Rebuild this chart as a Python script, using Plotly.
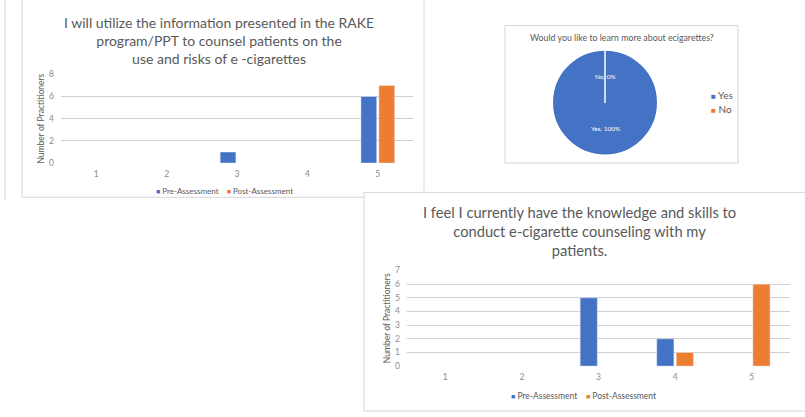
import math
import plotly.graph_objects as go

# ---- data -------------------------------------------------------------
categories = ["1", "2", "3", "4", "5"]
series_names = ["Pre-Assessment", "Post-Assessment"]

utilize_pre = [0, 0, 1, 0, 6]
utilize_post = [0, 0, 0, 0, 7]

skills_pre = [0, 0, 5, 2, 0]
skills_post = [0, 0, 0, 1, 6]

pie_labels = ["Yes", "No"]
pie_values = [100, 0]

title_utilize = "I will utilize the information presented in the RAKE<br>program/PPT to counsel patients on the<br>use and risks of e -cigarettes"
title_skills = "I feel I currently have the knowledge and skills to<br>conduct e-cigarette counseling with my<br>patients."
title_pie = "Would you like to learn more about ecigarettes?"
y_title = "Number of Practitioners"

# ---- styling ----------------------------------------------------------
W, H = 805, 417
BLUE = "#4472C4"
ORANGE = "#ED7D31"
colors = [BLUE, ORANGE]
GRID = "#D0D0D0"
TEXT = "#595959"
TICK = "#8C8C8C"
BORDER = "#D6D6D6"
FONT = "Lato, 'Open Sans', sans-serif"


def fx(px):
    return px / W


def fy(py):
    return 1 - py / H


fig = go.Figure()

# bar panels (zero counts are left undrawn)
def nz(vals):
    return [v if v else None for v in vals]


for vals, name, col in zip([utilize_pre, utilize_post], series_names, colors):
    fig.add_trace(go.Bar(x=categories, y=nz(vals), name=name, marker_color=col,
                         xaxis="x", yaxis="y", showlegend=False))
for vals, name, col in zip([skills_pre, skills_post], series_names, colors):
    fig.add_trace(go.Bar(x=categories, y=nz(vals), name=name, marker_color=col,
                         xaxis="x2", yaxis="y2", showlegend=False))

# pie panel
pie_cx, pie_cy, pie_r = 605, 100, 54
fig.add_trace(go.Pie(
    labels=pie_labels, values=pie_values, sort=False, direction="clockwise",
    rotation=0, marker=dict(colors=colors, line=dict(color="white", width=1.5)),
    textinfo="none", hoverinfo="label+percent", showlegend=False,
    domain=dict(x=[fx(pie_cx - pie_r), fx(pie_cx + pie_r)],
                y=[fy(pie_cy + pie_r), fy(pie_cy - pie_r)]),
))

axis_common = dict(showgrid=False, showline=False, zeroline=False, ticks="",
                   tickfont=dict(family=FONT, size=8.5, color=TICK), fixedrange=True)
yaxis_common = dict(showgrid=True, gridcolor=GRID, gridwidth=1, zeroline=False,
                    showline=False, ticks="", tickfont=dict(family=FONT, size=8.5, color=TICK),
                    title=dict(text=y_title, font=dict(family=FONT, size=8.5, color=TEXT), standoff=3),
                    ticklabelstandoff=6, fixedrange=True)

fig.update_layout(
    width=W, height=H,
    margin=dict(l=0, r=0, t=0, b=0),
    paper_bgcolor="white", plot_bgcolor="rgba(0,0,0,0)",
    barmode="group", bargap=0.49, bargroupgap=0.12,
    xaxis=dict(domain=[fx(61), fx(413)], type="category", anchor="y",
               ticklabelstandoff=4, **axis_common),
    yaxis=dict(domain=[fy(162), fy(71)], range=[0, 8], dtick=2, anchor="x", **yaxis_common),
    xaxis2=dict(domain=[fx(407), fx(790)], type="category", anchor="y2",
                ticklabelstandoff=4, **axis_common),
    yaxis2=dict(domain=[fy(370), fy(272)], range=[0, 7], dtick=1, anchor="x2", **yaxis_common),
    font=dict(family=FONT, color=TEXT),
)

# panel frames: outline segments only, so gridlines stay visible
frame_segments = [
    (5, -20, 5, 200),          # card at the far left
    (22, -20, 22, 197),        # upper-left card
    (22, 197, 364, 197),
    (424, -20, 424, 192),
    (505, 21, 738, 21),        # pie card
    (505, 162, 738, 162),
    (505, 21, 505, 162),
    (738, 21, 738, 162),
    (364, 192, 810, 192),      # lower-right card
    (364, 416, 810, 416),
    (364, 192, 364, 416),
]
for x0, y0, x1, y1 in frame_segments:
    fig.add_shape(type="line", xref="paper", yref="paper", layer="below",
                  x0=fx(x0), x1=fx(x1), y0=fy(y0), y1=fy(y1),
                  line=dict(color=BORDER, width=1))

annotations = []


def add_title(text, cx, cy, size):
    annotations.append(dict(text=text, x=fx(cx), y=fy(cy), xref="paper", yref="paper",
                            xanchor="center", yanchor="top", showarrow=False,
                            font=dict(family=FONT, size=size, color=TEXT), align="center"))


add_title(title_utilize, 219, 7, 14)
add_title(title_skills, 579, 201, 14.7)
add_title(title_pie, 622, 26, 8.8)


def legend_text(names, cols, sep="&nbsp;&nbsp;&nbsp;&nbsp;"):
    parts = [f"<span style='color:{c};font-size:7px'>■</span> {n}" for n, c in zip(names, cols)]
    return sep.join(parts)


annotations.append(dict(text=legend_text(series_names, colors), x=fx(224), y=fy(191),
                        xref="paper", yref="paper", xanchor="center", yanchor="middle",
                        showarrow=False, font=dict(family=FONT, size=8, color=TEXT)))
annotations.append(dict(text=legend_text(series_names, colors), x=fx(583), y=fy(401),
                        xref="paper", yref="paper", xanchor="center", yanchor="middle",
                        showarrow=False, font=dict(family=FONT, size=8.5, color=TEXT)))
for i, (lab, col) in enumerate(zip(pie_labels, colors)):
    annotations.append(dict(text=f"<span style='color:{col};font-size:8px'>■</span> {lab}",
                            x=fx(709), y=fy(92 + 15 * i), xref="paper", yref="paper",
                            xanchor="left", yanchor="middle", showarrow=False,
                            font=dict(family=FONT, size=10, color=TEXT)))

# pie data labels at the middle angle of each slice, half way out
total = sum(pie_values)
start = 0.0
for lab, v in zip(pie_labels, pie_values):
    frac = v / total
    mid = (start + frac / 2) * 2 * math.pi
    start += frac
    px = pie_cx + 0.5 * pie_r * math.sin(mid)
    py = pie_cy - 0.5 * pie_r * math.cos(mid)
    annotations.append(dict(text=f"{lab}, {round(frac * 100)}%", x=fx(px), y=fy(py),
                            xref="paper", yref="paper", xanchor="center", yanchor="middle",
                            showarrow=False, font=dict(family=FONT, size=6.5, color="white")))

fig.update_layout(annotations=annotations)

fig.write_html("out.html")
